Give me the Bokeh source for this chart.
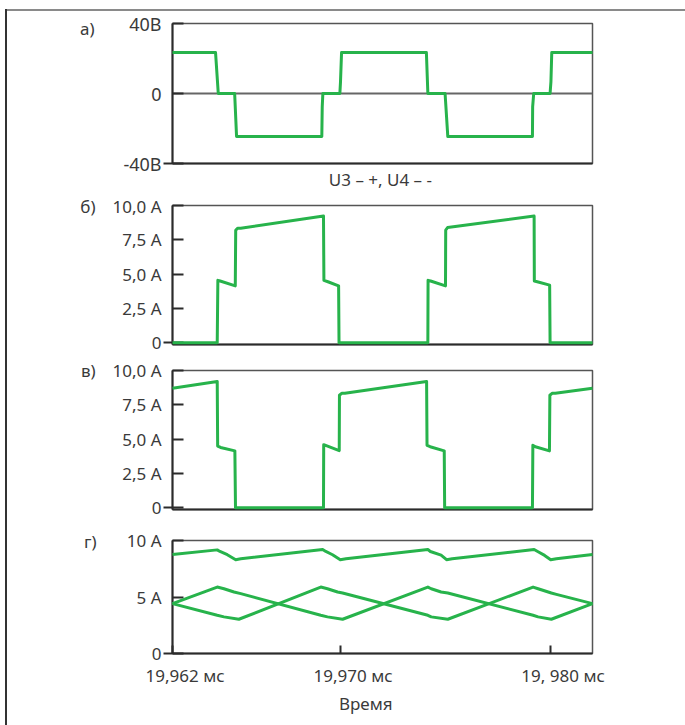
from bokeh.plotting import figure
from bokeh.models import Range1d, FixedTicker, LinearAxis, Div
from bokeh.layouts import column, row
from bokeh.embed import file_html
from bokeh.resources import INLINE

# ---------------- data ----------------
# panel a) voltage U3 - +, U4 - -  (V)
t_a = [19.96200, 19.96405, 19.96418, 19.96496, 19.96505, 19.96911, 19.96913, 19.96916,
       19.96997, 19.97000, 19.97005, 19.97409, 19.97416, 19.97498, 19.97511, 19.97914,
       19.97915, 19.97920, 19.97998, 19.98002, 19.98006, 19.98200]
u_a = [23.4, 23.4, 0, 0, -24.6, -24.6, -7.7, 0, 0, 6.6, 23.4, 23.4, 0, 0, -24.6, -24.6,
       -7.7, 0, 0, 6.6, 23.4, 23.4]

# panel b) current (A)
t_b = [19.96200, 19.96413, 19.96416, 19.96427, 19.96499, 19.96501, 19.96510, 19.96525,
       19.96919, 19.96921, 19.96940, 19.96991, 19.96993, 19.97416, 19.97417, 19.97429,
       19.97500, 19.97501, 19.97510, 19.97922, 19.97923, 19.97937, 19.97996, 19.97998,
       19.98200]
i_b = [0, 0, 4.55, 4.5, 4.15, 8.2, 8.35, 8.35, 9.23, 4.55, 4.45, 4.15, 0, 0, 4.55, 4.5,
       4.15, 8.2, 8.4, 9.23, 4.5, 4.45, 4.2, 0, 0]

# panel c) current (A)
t_c = [19.96200, 19.96413, 19.96415, 19.96429, 19.96497, 19.96500, 19.96919, 19.96920,
       19.96994, 19.96995, 19.97007, 19.97021, 19.97410, 19.97412, 19.97427, 19.97494,
       19.97496, 19.97914, 19.97916, 19.97928, 19.97995, 19.97997, 19.98009, 19.98023,
       19.98200]
i_c = [8.7, 9.2, 4.5, 4.4, 4.15, 0, 0, 4.6, 4.17, 8.2, 8.35, 8.35, 9.2, 4.55, 4.45, 4.15,
       0, 0, 4.55, 4.45, 4.15, 8.2, 8.35, 8.35, 8.7]

# panel d) currents (A)
t_d_top = [19.96200, 19.96413, 19.96426, 19.96461, 19.96501, 19.96525, 19.96915, 19.96930,
           19.96962, 19.96999, 19.97026, 19.97416, 19.97428, 19.97479, 19.97505, 19.97532,
           19.97922, 19.97941, 19.97972, 19.98001, 19.98028, 19.98200]
i_d_top = [8.76, 9.17, 9.03, 8.74, 8.3, 8.38, 9.2, 9.03, 8.74, 8.3, 8.38, 9.2, 9.03, 8.7,
           8.3, 8.38, 9.2, 9.0, 8.68, 8.3, 8.38, 8.76]
t_d_p1 = [19.96200, 19.96413, 19.96445, 19.96493, 19.96525, 19.96906, 19.96938, 19.97010,
          19.97416, 19.97432, 19.97479, 19.97511, 19.97917, 19.97941, 19.98004, 19.98200]
i_d_p1 = [4.41, 5.88, 5.73, 5.44, 5.30, 3.38, 3.24, 3.03, 5.88, 5.73, 5.44, 5.35, 3.38,
          3.24, 3.03, 4.41]
t_d_p2 = [19.96200, 19.96413, 19.96445, 19.96516, 19.96906, 19.96938, 19.96986, 19.97010,
          19.97416, 19.97432, 19.97511, 19.97917, 19.97941, 19.98004, 19.98028, 19.98200]
i_d_p2 = [4.41, 3.38, 3.24, 3.03, 5.88, 5.73, 5.44, 5.35, 3.38, 3.24, 3.03, 5.88, 5.73,
          5.35, 5.23, 4.41]

# ticks / labels
x_ticks = [19.962, 19.970, 19.980]
x_tick_labels = ["19,962 мс", "19,970 мс", "19, 980 мс"]
ya_ticks = [-40, 0, 40]
ya_labels = ["-40В", "0", "40В"]
ybc_ticks = [0, 2.5, 5, 7.5, 10]
ybc_labels = ["0", "2,5 A", "5,0 A", "7,5 A", "10,0 A"]
yd_ticks = [0, 5, 10]
yd_labels = ["0", "5 A", "10 A"]
panel_names = ["а)", "б)", "в)", "г)"]
caption_a = "U3 – +, U4 – -"
x_title = "Время"

# ---------------- style / placement ----------------
FONT = "Noto Sans"
TXT = "#3a3a3a"
GREEN = "#27b34b"
DARK = "#2b2b2b"
W = 683
LEFT = 172
RIGHT = W - LEFT - 420
XLAB_SHIFT = 0.0006          # tick labels sit a little right of their ticks
XTITLE_POS = 19.9712         # where the axis title "Время" is centred
CAPTION_POS = 19.9719        # where the caption under panel a) is centred

xr = Range1d(19.962, 19.982)


def text_axis(p, place, pos, text, standoff, size="17px"):
    ax = LinearAxis(ticker=FixedTicker(ticks=[pos]), major_label_overrides={pos: text},
                    axis_line_color=None, major_tick_line_color=None,
                    minor_tick_line_color=None, major_tick_in=0, major_tick_out=0,
                    major_label_standoff=standoff, major_label_text_font=FONT,
                    major_label_text_font_size=size, major_label_text_color=TXT)
    p.add_layout(ax, place)
    return ax


def make_fig(height, top, bottom, y0, y1, ticks, labels, size, ybottom):
    p = figure(width=W, height=height, x_range=xr, y_range=Range1d(y0, y1),
               output_backend="svg", toolbar_location=None, tools="",
               min_border_left=LEFT, min_border_right=RIGHT,
               min_border_top=top, min_border_bottom=bottom)
    p.outline_line_color = "#555555"
    p.outline_line_width = 1.5
    p.xgrid.visible = False
    p.ygrid.visible = False
    p.background_fill_color = "white"
    p.border_fill_color = "white"
    for ax in (p.xaxis[0], p.yaxis[0]):
        ax.axis_line_color = DARK
        ax.axis_line_width = 2
        ax.major_tick_line_color = DARK
        ax.major_tick_line_width = 2
        ax.minor_tick_line_color = DARK
        ax.minor_tick_line_width = 2
        ax.major_label_text_font = FONT
        ax.major_label_text_font_size = size
        ax.major_label_text_color = TXT
    ya = p.yaxis[0]
    ya.ticker = FixedTicker(ticks=ticks, minor_ticks=[ybottom])
    ya.major_label_overrides = {k: v for k, v in zip(ticks, labels)}
    ya.major_tick_in = 11
    ya.major_tick_out = 0
    ya.minor_tick_in = 0
    ya.minor_tick_out = 9
    ya.major_label_standoff = 2
    xa = p.xaxis[0]
    xa.ticker = FixedTicker(ticks=[])
    xa.major_tick_in = 0
    xa.major_tick_out = 0
    xa.minor_tick_in = 0
    xa.minor_tick_out = 0
    xa.major_label_standoff = 0
    return p


def add_line(p, xs, ys):
    r = p.line(xs, ys, line_color=GREEN, line_width=3, line_join="round")
    r.level = "overlay"
    return r


# a)
fa = make_fig(194, 23, 31, -40, 40, ya_ticks, ya_labels, "18px", -40)
fa.ygrid.visible = True
fa.ygrid.ticker = FixedTicker(ticks=[0])
fa.ygrid.grid_line_color = "#666666"
fa.ygrid.grid_line_width = 2
xa_cap = fa.xaxis[0]
xa_cap.ticker = FixedTicker(ticks=[CAPTION_POS])
xa_cap.major_label_overrides = {CAPTION_POS: caption_a}
xa_cap.major_tick_line_color = None
xa_cap.major_label_standoff = 4
xa_cap.major_label_text_font_size = "17px"
text_axis(fa, "left", 37.1, panel_names[0], 26)
add_line(fa, t_a, u_a)

# b)
fb = make_fig(163, 11, 13, -0.12, 10, ybc_ticks, ybc_labels, "17px", 0)
text_axis(fb, "left", 10.0, panel_names[1], 14)
add_line(fb, t_b, i_b)

# c)
fc = make_fig(170, 13, 18, -0.12, 10, ybc_ticks, ybc_labels, "17px", 0)
text_axis(fc, "left", 10.0, panel_names[2], 14)
add_line(fc, t_c, i_c)

# d)
fd = make_fig(190, 13, 64, 0, 10, yd_ticks, yd_labels, "17px", 0)
text_axis(fd, "left", 9.91, panel_names[3], 27)
lab_ticks = [t + XLAB_SHIFT for t in x_ticks]
xd = fd.xaxis[0]
xd.ticker = FixedTicker(ticks=lab_ticks, minor_ticks=x_ticks)
xd.major_label_overrides = {k: v for k, v in zip(lab_ticks, x_tick_labels)}
xd.major_tick_line_color = None
xd.minor_tick_in = 8
xd.minor_tick_out = 0
xd.major_label_standoff = 10
text_axis(fd, "below", XTITLE_POS, x_title, 2)
add_line(fd, t_d_top, i_d_top)
add_line(fd, t_d_p1, i_d_p1)
add_line(fd, t_d_p2, i_d_p2)

frame_lines = Div(
    text=('<div style="position:fixed;left:5px;top:9px;width:680px;height:2px;'
          'background:#8a8a8a;z-index:10"></div>'
          '<div style="position:fixed;left:5px;top:9px;width:2px;height:716px;'
          'background:#333333;z-index:10"></div>'),
    width=1, height=1)

layout = column(row(fa, frame_lines), fb, fc, fd)

open("out.html", "w").write(file_html(layout, INLINE))
